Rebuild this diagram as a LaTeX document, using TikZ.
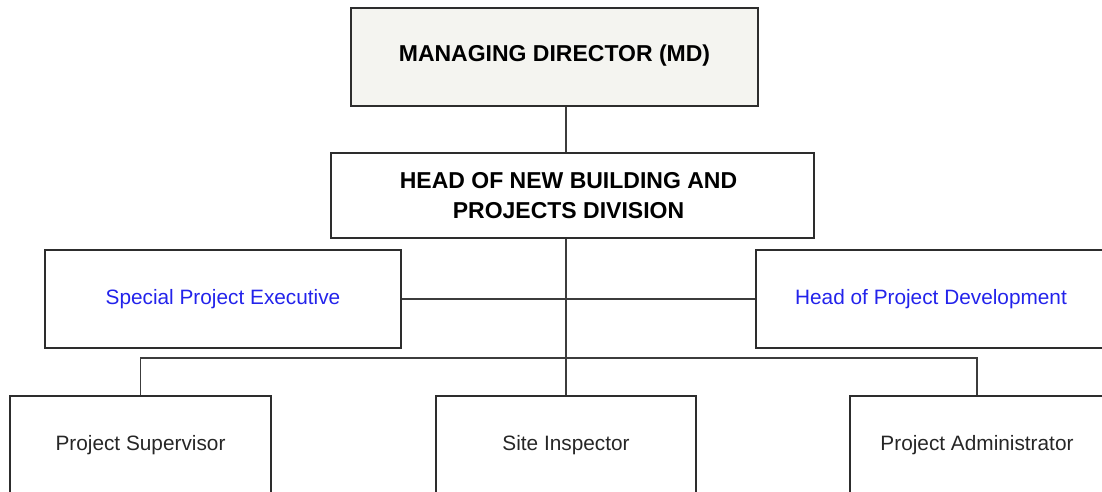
\documentclass[tikz,border=0pt]{standalone}
\usepackage{fontspec}
\setmainfont{Liberation Sans}
\definecolor{boxline}{RGB}{45,45,45}
\definecolor{connline}{RGB}{60,60,60}
\definecolor{mdfill}{RGB}{244,244,240}
\definecolor{roleblue}{RGB}{35,35,235}
\begin{document}
\begin{tikzpicture}[x=1pt,y=-1pt,
  box/.style={draw=boxline, line width=2pt, inner sep=0pt, anchor=north west, align=center},
  headtext/.style={font=\fontsize{23}{30}\selectfont\bfseries, text=black},
  bluetext/.style={font=\fontsize{20.8}{24}\selectfont, text=roleblue},
  stafftext/.style={font=\fontsize{20.8}{24}\selectfont, text=black!85},
  conn/.style={draw=connline, line width=1.5pt}]
\useasboundingbox (0,0) rectangle (1102,491);
\clip (0,0) rectangle (1102,491);

% management boxes
\node[box, fill=mdfill, minimum width=407pt, minimum height=98pt] (md) at (350,7) {};
\node[headtext] (mdtext) at (md.center) [yshift=1.5pt] {MANAGING DIRECTOR (MD)};
\node[box, minimum width=483pt, minimum height=85pt] (head) at (330,152) {};
\node[headtext, align=center] (headtext) at (head.center) [xshift=-4pt] {HEAD OF NEW BUILDING AND\\PROJECTS DIVISION};

% second level
\node[box, bluetext, minimum width=356pt, minimum height=98pt] (spe) at (44,249) {Special Project Executive};
\node[box, bluetext, minimum width=350pt, minimum height=98pt] (hpd) at (755,249) {Head of Project Development};

% staff level
\node[box, stafftext, minimum width=261pt, minimum height=98pt] (ps) at (9,395) {Project Supervisor};
\node[box, stafftext, minimum width=260pt, minimum height=98pt] (si) at (435,395) {Site Inspector};
\node[box, stafftext, minimum width=254pt, minimum height=98pt] (pa) at (849,395) {Project Administrator};

% connectors
\coordinate (spine) at (566,0);
\coordinate (bus) at (0,358);
\draw[conn] (md.south -| spine) -- (head.north -| spine);
\draw[conn] (head.south -| spine) -- (si.north -| spine);
\draw[conn] (spe.east) -- (hpd.west);
\draw[conn] (ps.north) -- (ps.north |- bus) -- (pa.north |- bus) -- (pa.north);
\end{tikzpicture}
\end{document}
